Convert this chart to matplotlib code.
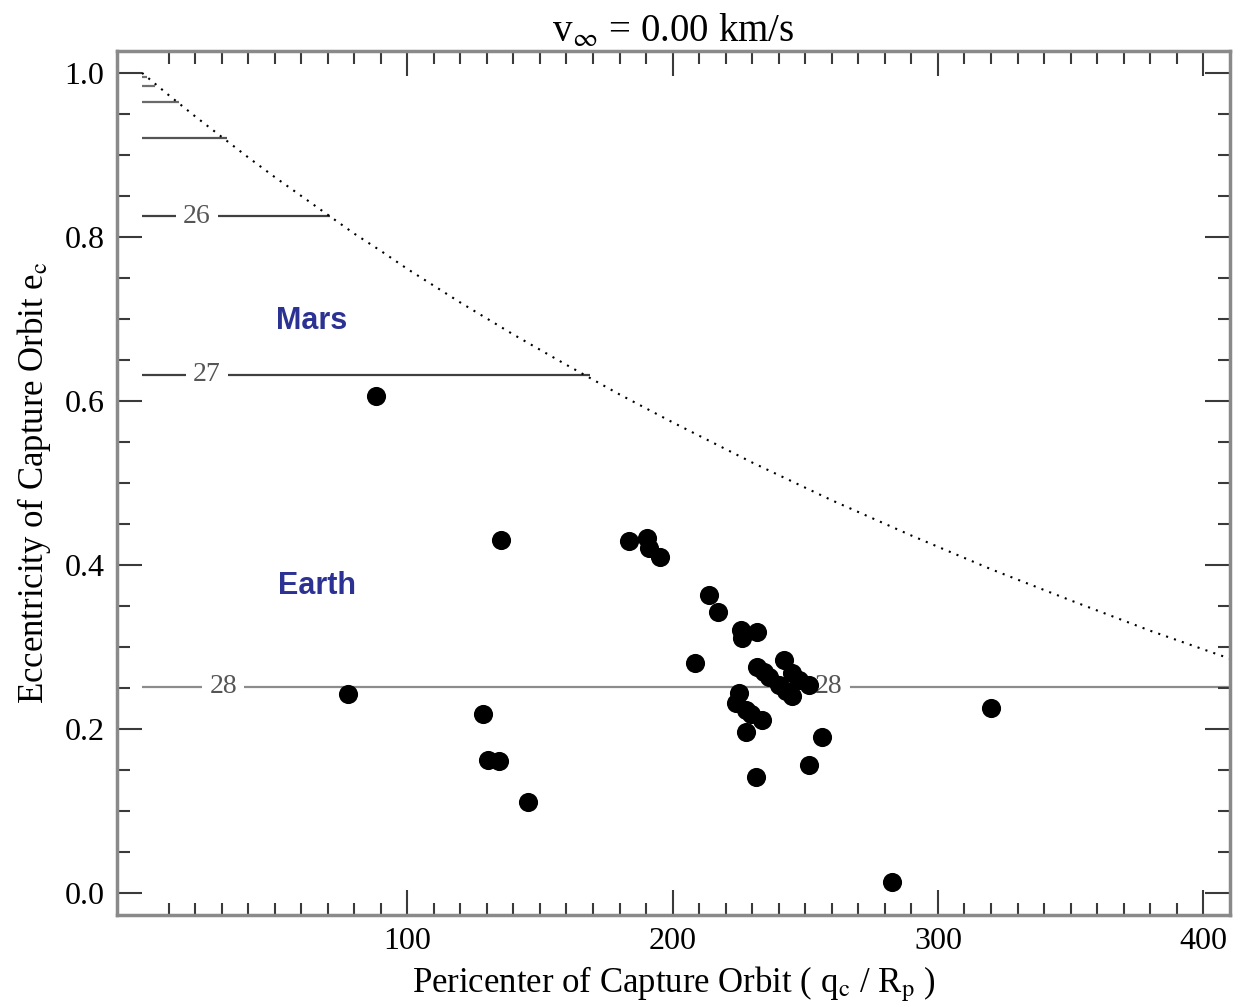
"""Capture orbit eccentricity vs pericenter for v_inf = 0 km/s."""
import matplotlib
matplotlib.use("Agg")
import matplotlib.pyplot as plt
import numpy as np
from matplotlib.ticker import FixedLocator, MultipleLocator

plt.rcParams["font.family"] = ["Liberation Serif", "DejaVu Serif"]
plt.rcParams["mathtext.fontset"] = "stix"

# captured objects: pericenter (q_c / R_p) and eccentricity e_c
peri = [88.1, 77.5, 135.5, 128.7, 130.6, 134.7, 145.6, 183.6, 190.4, 191.2,
        195.3, 208.5, 213.7, 217.2, 225.7, 226.3, 231.9, 231.9, 234.4, 236.3,
        240.1, 241.9, 242.6, 245.1, 245.1, 247.6, 251.4, 225.0, 223.8, 227.5,
        229.5, 233.8, 227.5, 256.4, 251.4, 231.3, 282.6, 319.8]
ecc = [0.606, 0.243, 0.431, 0.218, 0.162, 0.161, 0.111, 0.429, 0.433, 0.421,
       0.410, 0.281, 0.364, 0.343, 0.321, 0.311, 0.319, 0.276, 0.270, 0.264,
       0.254, 0.284, 0.246, 0.268, 0.240, 0.260, 0.254, 0.244, 0.232, 0.223,
       0.219, 0.211, 0.197, 0.191, 0.156, 0.142, 0.014, 0.226]

# dotted capture boundary
bound_q = [0, 10, 20, 30, 40, 50, 60, 70, 80, 90, 100, 120, 140, 160, 180,
           200, 230, 260, 290, 320, 350, 380, 410]
bound_e = [1.000, 0.973, 0.947, 0.922, 0.897, 0.873, 0.850, 0.827, 0.804,
           0.783, 0.761, 0.720, 0.681, 0.644, 0.608, 0.574, 0.525, 0.479,
           0.436, 0.395, 0.357, 0.320, 0.286]

# contour levels: eccentricity and where each one stops (q)
level_e = [0.995, 0.984, 0.965, 0.920, 0.825, 0.632, 0.252]
level_end = [2, 5, 14, 32, 71, 169, 410]
level_color = ["#707070", "#707070", "#6a6a6a", "#555555", "#404040", "#404040", "#8c8c8c"]

# contour labels
lab_text = ["26", "27", "28", "28"]
lab_q = [20.7, 24.4, 30.6, 258.9]
lab_e = [0.825, 0.632, 0.252, 0.252]

fig = plt.figure(figsize=(12.41, 10.07), dpi=100)
ax = fig.add_axes([0.0943, 0.0914, 0.8967, 0.8583])

for e, end, c in zip(level_e, level_end, level_color):
    ax.plot([0, end], [e, e], color=c, lw=1.6, zorder=1, solid_capstyle="butt")
for t, q, e in zip(lab_text, lab_q, lab_e):
    ax.text(q, e, t, ha="center", va="center", fontsize=20, color="#555555",
            zorder=2, bbox=dict(facecolor="white", edgecolor="none", pad=5))

ax.plot(bound_q, bound_e, color="black", lw=1.5, linestyle=(0, (1, 3)), zorder=2)
ax.scatter(peri, ecc, s=190, color="black", linewidths=0, zorder=3)

ax.text(64.0, 0.697, "Mars", fontsize=22, fontweight="bold", color="#2b3293",
        family="Liberation Sans", ha="center", va="center")
ax.text(65.9, 0.374, "Earth", fontsize=22, fontweight="bold", color="#2b3293",
        family="Liberation Sans", ha="center", va="center")

ax.set_xlim(-9.4, 410)
ax.set_ylim(-0.0264, 1.027)
ax.xaxis.set_major_locator(FixedLocator([100, 200, 300, 400]))
ax.xaxis.set_minor_locator(FixedLocator(np.arange(10, 410, 10)))
ax.yaxis.set_major_locator(FixedLocator([0.0, 0.2, 0.4, 0.6, 0.8, 1.0]))
ax.yaxis.set_minor_locator(MultipleLocator(0.05))
ax.set_yticklabels(["0.0", "0.2", "0.4", "0.6", "0.8", "1.0"])

ax.tick_params(which="both", direction="in", top=True, right=True,
               color="#3a3a3a", width=1.5, labelsize=23)
ax.tick_params(which="major", length=18, pad=9)
ax.tick_params(which="minor", length=9)
for sp in ax.spines.values():
    sp.set_color("#8a8a8a")
    sp.set_linewidth(2.5)

ax.set_xlabel(r"Pericenter of Capture Orbit ( q$_\mathrm{c}$ / R$_\mathrm{p}$ )",
              fontsize=25, labelpad=6)
ax.set_ylabel(r"Eccentricity of Capture Orbit e$_\mathrm{c}$", fontsize=25, labelpad=8)
ax.set_title(r"v$_\infty$ = 0.00 km/s", fontsize=28, pad=6)

fig.savefig("out.png", dpi=100)
